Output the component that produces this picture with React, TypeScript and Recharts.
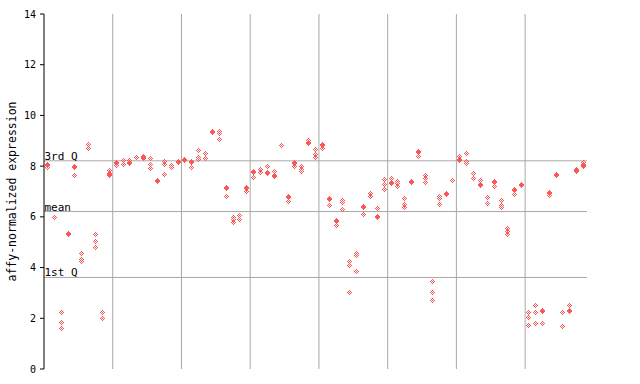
import { ScatterChart, Scatter, XAxis, YAxis, ReferenceLine } from 'recharts';

const RED = '#ff5555';
const GRID = '#a8a8a8';
const FONT = '"DejaVu Sans Mono", monospace';

// one entry per sample column, 79 columns in blocks of 10
const solidValues: (number | null)[] = [
  8.03, null, null, 5.3, null, null, null, null, null, 7.68,
  8.12, null, 8.12, null, 8.31, null, 7.39, null, null, 8.15,
  8.21, 8.15, null, null, 9.34, null, 7.1, null, null, 7.13,
  7.76, null, 7.72, 7.6, null, 6.78, 8.12, null, 8.9, null,
  8.82, 6.67, 5.8, null, null, null, 6.35, null, 5.96, null,
  7.33, null, null, 7.37, 8.55, null, null, null, 6.9, null,
  8.24, null, null, 7.22, null, 7.37, null, null, 7.02, 7.22,
  null, null, 2.26, 6.94, 7.65, null, 2.25, 7.82, 7.98,
];

const openValues: number[][] = [
  [7.93], [5.97], [2.24, 1.83, 1.61], [], [8.0, 7.93, 7.62],
  [4.56, 4.33, 4.22], [8.86, 8.7], [5.3, 5.03, 4.79], [2.24, 2.0], [7.82, 7.62],
  [8.02], [8.22, 8.07], [8.24], [8.36], [8.4],
  [8.31, 8.08, 7.9], [], [8.17, 8.07, 7.66], [8.02, 7.95], [],
  [], [7.94], [8.61, 8.33, 8.25], [8.5, 8.29], [],
  [9.37, 9.29, 9.04], [6.8], [5.98, 5.88, 5.77], [6.06, 5.9], [7.0],
  [7.54], [7.86, 7.73], [7.98], [7.78], [8.8],
  [6.6], [8.0], [7.98, 7.88, 7.78], [9.0], [8.65, 8.45, 8.35],
  [8.68], [6.44], [5.64], [6.66, 6.56, 6.29], [4.25, 4.09, 3.02],
  [4.56, 4.47, 3.85], [6.09], [6.92, 6.8], [6.33], [7.47, 7.27, 7.07],
  [7.51], [7.4, 7.3, 7.18], [6.72, 6.47, 6.38], [], [8.37],
  [7.64, 7.51, 7.37], [3.46, 3.02, 2.71], [6.82, 6.74, 6.48], [], [7.43],
  [8.4], [8.49, 8.17, 8.09], [7.7, 7.5], [7.43], [6.76, 6.52],
  [7.19], [6.64, 6.45, 6.36], [5.54, 5.43, 5.3], [6.9], [],
  [2.24, 2.04, 1.73], [2.52, 2.24, 1.81], [1.81], [6.83], [],
  [2.24, 1.69], [2.49], [7.78], [8.16, 8.06],
];

const blockEdges = [10, 20, 30, 40, 50, 60, 70];
const yTicks = [0, 2, 4, 6, 8, 10, 12, 14];
const quartileLabels = ['3rd Q', 'mean', '1st Q'];
const quartileValues = [8.21, 6.21, 3.61];

const solidPoints = solidValues.flatMap((v, i) => (v == null ? [] : [{ x: i + 0.5, y: v }]));
const openPoints = openValues.flatMap((vals, i) => vals.map((v) => ({ x: i + 0.5, y: v })));

// little pixel diamonds, solid or checkered
function Diamond(props: any) {
  const { cx, cy, solid } = props;
  if (cx == null || cy == null) return null;
  const px = Math.floor(cx);
  const py = Math.floor(cy);
  const rows = solid ? [0, 1, 2, 2, 1, 0] : [0, 1, 2, 1, 0];
  const top = solid ? -3 : -2;
  let d = '';
  rows.forEach((w, r) => {
    const dy = top + r;
    for (let dx = -w; dx <= w; dx++) {
      if (!solid && (dx + dy) % 2 !== 0) continue;
      d += `M${px + dx},${py + dy}h1v1h-1z`;
    }
  });
  return <path d={d} fill={RED} shapeRendering="crispEdges" />;
}

export default function App() {
  return (
    <div style={{ position: 'absolute', left: 0, top: 0, width: 640, height: 384, background: '#fff' }}>
      <ScatterChart width={640} height={384} margin={{ top: 14, right: 53, bottom: 15, left: 0 }}>
        <XAxis
          type="number"
          dataKey="x"
          domain={[0, 79]}
          allowDataOverflow
          tick={false}
          tickLine={false}
          height={0}
          axisLine={{ stroke: '#000' }}
        />
        <YAxis
          yAxisId="left"
          type="number"
          dataKey="y"
          domain={[0, 14]}
          ticks={yTicks}
          interval={0}
          allowDataOverflow
          width={44}
          tickSize={4}
          tickMargin={4}
          axisLine={{ stroke: '#000' }}
          tickLine={{ stroke: '#000' }}
          tick={{ fill: '#000', fontSize: 10, fontFamily: FONT }}
          label={() => (
            <text
              x={12}
              y={191.5}
              transform="rotate(-90, 12, 191.5)"
              textAnchor="middle"
              dominantBaseline="central"
              fontSize={11.5}
              fontFamily={FONT}
              fill="#000"
            >
              affy-normalized expression
            </text>
          )}
        />
        <YAxis
          yAxisId="right"
          orientation="right"
          type="number"
          domain={[0, 14]}
          ticks={yTicks}
          interval={0}
          width={0}
          mirror
          tickSize={5}
          tick={false}
          axisLine={{ stroke: '#000' }}
          tickLine={{ stroke: '#000' }}
        />
        {blockEdges.map((x) => (
          <ReferenceLine key={x} x={x} yAxisId="left" stroke={GRID} strokeWidth={1} />
        ))}
        {quartileValues.map((v, i) => (
          <ReferenceLine
            key={quartileLabels[i]}
            y={v}
            yAxisId="left"
            stroke={GRID}
            strokeWidth={1}
            label={(p: any) => (
              <text
                x={p.viewBox.x + 0.5}
                y={p.viewBox.y - 1}
                fontSize={11}
                fontFamily={FONT}
                fill="#000"
              >
                {quartileLabels[i]}
              </text>
            )}
          />
        ))}
        <Scatter
          yAxisId="left"
          data={openPoints}
          isAnimationActive={false}
          shape={(p: any) => <Diamond {...p} />}
        />
        <Scatter
          yAxisId="left"
          data={solidPoints}
          isAnimationActive={false}
          shape={(p: any) => <Diamond {...p} solid />}
        />
      </ScatterChart>
    </div>
  );
}
